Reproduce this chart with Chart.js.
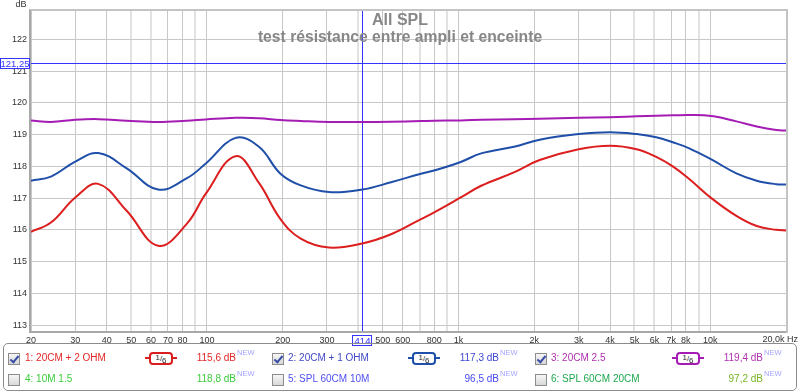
<!DOCTYPE html>
<html lang="fr">
<head>
<meta charset="UTF-8">
<title>All SPL</title>
<script src="https://cdn.jsdelivr.net/npm/chart.js"></script>
<style>
  html, body { margin: 0; padding: 0; background: #fff; }
  #wrap { position: relative; width: 800px; height: 392px; font-family: "Liberation Sans", Arial, sans-serif; }
  #spl { position: absolute; left: 0; top: 0; }
  .panel { position: absolute; left: 3px; top: 343px; width: 794px; height: 48px; border: 1px solid #8c8c8c; border-radius: 5px; box-sizing: border-box; }
  .it { position: absolute; font-size: 10px; line-height: 12px; white-space: nowrap; }
  .val { text-align: right; }
  .new { position: absolute; font-size: 7.5px; line-height: 8px; color: #a4a4ff; }
  .cb { position: absolute; width: 12px; height: 12px; border: 1px solid #8c8c8c; box-sizing: border-box;
        background: linear-gradient(#f6f6f6, #d8d8d8); }
  .cb.on::after { content: ""; position: absolute; left: 3px; top: 0px; width: 3px; height: 7px;
        border-right: 2px solid #3a4ea8; border-bottom: 2px solid #3a4ea8; transform: rotate(40deg); }
  .ic { position: absolute; width: 32px; height: 13px; }
  .ic .ln { position: absolute; left: 0; top: 5px; width: 32px; height: 2px; }
  .ic .bx { position: absolute; left: 4px; top: 0; width: 24px; height: 13px; border: 2px solid; border-radius: 4px;
        background: #fff; box-sizing: border-box; font-size: 8px; line-height: 9px; color: #222; text-align: center; }
  .ic .bx span { position: relative; }
</style>
</head>
<body>
<div id="wrap">
  <canvas id="spl" width="800" height="392"></canvas>

  <div class="panel"></div>

  <!-- rangée 1 -->
  <div class="cb on" style="left:8px;top:353px"></div>
  <div class="it" style="left:25px;top:352px;color:#e42626">1: 20CM + 2 OHM</div>
  <div class="ic" style="left:145px;top:352px"><div class="ln" style="background:#d81e1e"></div><div class="bx" style="border-color:#d81e1e"><span style="top:-1px">1</span>/<span style="top:2px">6</span></div></div>
  <div class="it val" style="right:564px;top:352px;color:#e42626">115,6 dB</div>
  <div class="new" style="left:237px;top:349px">NEW</div>

  <div class="cb on" style="left:272px;top:353px"></div>
  <div class="it" style="left:288px;top:352px;color:#4048c4">2: 20CM + 1 OHM</div>
  <div class="ic" style="left:408px;top:352px"><div class="ln" style="background:#1f4fa8"></div><div class="bx" style="border-color:#1f4fa8"><span style="top:-1px">1</span>/<span style="top:2px">6</span></div></div>
  <div class="it val" style="right:301px;top:352px;color:#3c48d0">117,3 dB</div>
  <div class="new" style="left:500px;top:349px">NEW</div>

  <div class="cb on" style="left:535px;top:353px"></div>
  <div class="it" style="left:551px;top:352px;color:#b030b0">3: 20CM 2.5</div>
  <div class="ic" style="left:672px;top:352px"><div class="ln" style="background:#a41cb4"></div><div class="bx" style="border-color:#a41cb4"><span style="top:-1px">1</span>/<span style="top:2px">6</span></div></div>
  <div class="it val" style="right:37px;top:352px;color:#b030b0">119,4 dB</div>
  <div class="new" style="left:764px;top:349px">NEW</div>

  <!-- rangée 2 -->
  <div class="cb" style="left:8px;top:374px"></div>
  <div class="it" style="left:25px;top:373px;color:#3ccc3c">4: 10M 1.5</div>
  <div class="it val" style="right:564px;top:373px;color:#3ccc3c">118,8 dB</div>
  <div class="new" style="left:237px;top:370px">NEW</div>

  <div class="cb" style="left:272px;top:374px"></div>
  <div class="it" style="left:288px;top:373px;color:#5050f0">5: SPL 60CM 10M</div>
  <div class="it val" style="right:301px;top:373px;color:#4848f4">96,5 dB</div>
  <div class="new" style="left:500px;top:370px">NEW</div>

  <div class="cb" style="left:535px;top:374px"></div>
  <div class="it" style="left:551px;top:373px;color:#1ea84e">6: SPL 60CM 20CM</div>
  <div class="it val" style="right:37px;top:373px;color:#78b424">97,2 dB</div>
  <div class="new" style="left:764px;top:370px">NEW</div>
</div>

<script>
// fréquences (Hz) des points
const freqs = [20, 24, 30, 37, 48, 64, 83, 99, 130, 161, 196, 236, 305, 414, 539, 709, 800, 1020,
               1230, 1660, 2100, 3000, 4000, 5100, 6100, 7100, 8250, 10100, 12700, 15300, 18300, 20000];

// 1: 20CM + 2 OHM
const spl20cm2ohm = [115.94, 116.23, 117.02, 117.45, 116.6, 115.5, 116.18, 117.14, 118.32, 117.48, 116.34, 115.72,
                     115.44, 115.57, 115.86, 116.34, 116.55, 117.02, 117.39, 117.81, 118.2, 118.54, 118.65, 118.54,
                     118.3, 118.0, 117.6, 117.0, 116.44, 116.12, 116.0, 115.98];
// 2: 20CM + 1 OHM
const spl20cm1ohm = [117.55, 117.68, 118.15, 118.42, 117.94, 117.27, 117.62, 118.09, 118.9, 118.62, 117.77, 117.4,
                     117.19, 117.27, 117.5, 117.77, 117.87, 118.14, 118.41, 118.62, 118.84, 119.02, 119.08, 119.02,
                     118.92, 118.76, 118.57, 118.22, 117.78, 117.55, 117.44, 117.43];
// 3: 20CM 2.5
const spl20cm25 = [119.45, 119.4, 119.47, 119.49, 119.44, 119.4, 119.44, 119.48, 119.53, 119.52, 119.46, 119.43,
                   119.4, 119.4, 119.41, 119.43, 119.44, 119.45, 119.47, 119.49, 119.5, 119.53, 119.55, 119.58,
                   119.6, 119.61, 119.62, 119.59, 119.42, 119.26, 119.15, 119.13];

const xTicks = [20, 30, 40, 50, 60, 70, 80, 90, 100, 200, 300, 400, 500, 600, 700, 800, 900, 1000,
                2000, 3000, 4000, 5000, 6000, 7000, 8000, 9000, 10000, 20000];
const xLabels = {20:'20', 30:'30', 40:'40', 50:'50', 60:'60', 70:'70', 80:'80', 100:'100', 200:'200', 300:'300',
                 500:'500', 600:'600', 800:'800', 1000:'1k', 2000:'2k', 3000:'3k', 4000:'4k', 5000:'5k',
                 6000:'6k', 7000:'7k', 8000:'8k', 10000:'10k'};
const softLines = [50, 60, 90, 400, 700, 900, 5000, 6000, 9000];
const yTicks = [113, 114, 115, 116, 117, 118, 119, 120, 121, 122];

const cursorFreq = 414;
const cursorDb = 121.25;

function pts(vals) {
    return freqs.map((f, i) => ({ x: f, y: vals[i] }));
}

const decor = {
    id: 'decor',
    beforeDatasetsDraw(chart) {
        const { ctx, chartArea: a, scales: { x, y } } = chart;
        const cx = Math.round(x.getPixelForValue(cursorFreq)) + 0.5;
        const cy = Math.round(y.getPixelForValue(cursorDb)) + 0.5;
        ctx.save();
        ctx.strokeStyle = '#3434ff';
        ctx.lineWidth = 1;
        ctx.beginPath();
        ctx.moveTo(a.left, cy); ctx.lineTo(a.right, cy);
        ctx.moveTo(cx, a.top); ctx.lineTo(cx, a.bottom);
        ctx.stroke();
        ctx.restore();
    },
    afterDraw(chart) {
        const { ctx, chartArea: a, scales: { x, y } } = chart;
        ctx.save();
        // cadre du graphe
        ctx.strokeStyle = '#c4c4c4';
        ctx.lineWidth = 2;
        ctx.strokeRect(a.left - 1, a.top, a.right - a.left + 2, a.bottom - a.top);
        ctx.strokeStyle = '#a8a8a8';
        ctx.beginPath();
        ctx.moveTo(a.left - 1, a.top); ctx.lineTo(a.left - 1, a.bottom);
        ctx.lineTo(a.right, a.bottom);
        ctx.stroke();

        // titres
        ctx.fillStyle = '#878787';
        ctx.textAlign = 'center';
        ctx.textBaseline = 'alphabetic';
        ctx.font = 'bold 16px "Liberation Sans", Arial, sans-serif';
        ctx.fillText('All SPL', 400, 25);
        ctx.font = 'bold 15.7px "Liberation Sans", Arial, sans-serif';
        ctx.fillText('test résistance entre ampli et enceinte', 400, 42);

        // unités
        ctx.fillStyle = '#333';
        ctx.font = '9px "Liberation Sans", Arial, sans-serif';
        ctx.textBaseline = 'middle';
        ctx.fillText('dB', 21, 5);
        ctx.textAlign = 'right';
        ctx.fillText('20,0k Hz', 798, 340);

        // étiquettes des curseurs
        const cx = Math.round(x.getPixelForValue(cursorFreq));
        const cy = Math.round(y.getPixelForValue(cursorDb));
        ctx.fillStyle = '#fff';
        ctx.strokeStyle = '#3434ff';
        ctx.lineWidth = 1;
        ctx.fillRect(0.5, cy - 4.5, 29, 10);
        ctx.strokeRect(0.5, cy - 4.5, 29, 10);
        ctx.fillRect(cx - 9.5, 335.5, 19, 10);
        ctx.strokeRect(cx - 9.5, 335.5, 19, 10);
        ctx.fillStyle = '#3434ff';
        ctx.textAlign = 'center';
        ctx.font = '9.5px "Liberation Sans", Arial, sans-serif';
        ctx.fillText('121,25', 15, cy + 1);
        ctx.fillText('414', cx + 0.5, 341);
        ctx.restore();
    }
};

const data = {
    datasets: [
        { label: '1: 20CM + 2 OHM', data: pts(spl20cm2ohm), borderColor: '#dc1e1e' },
        { label: '2: 20CM + 1 OHM', data: pts(spl20cm1ohm), borderColor: '#1f4fa8' },
        { label: '3: 20CM 2.5', data: pts(spl20cm25), borderColor: '#a41cb4' }
    ]
};

const config = {
    type: 'line',
    data: data,
    options: {
        responsive: false,
        animation: false,
        devicePixelRatio: 1,
        layout: { padding: { left: 0, top: 10, right: 14, bottom: 0 } },
        elements: {
            point: { radius: 0 },
            line: { borderWidth: 2, tension: 0.4, fill: false }
        },
        plugins: {
            legend: { display: false },
            tooltip: { enabled: false }
        },
        scales: {
            x: {
                type: 'logarithmic',
                min: 20,
                max: 20000,
                afterBuildTicks: s => { s.ticks = xTicks.map(v => ({ value: v })); },
                afterFit: s => { s.height = 60; },
                border: { display: false },
                grid: {
                    drawTicks: false,
                    color: c => softLines.includes(c.tick && c.tick.value) ? '#e2e2e2' : '#c8c8c8',
                    lineWidth: c => softLines.includes(c.tick && c.tick.value) ? 2 : 1
                },
                ticks: {
                    autoSkip: false,
                    maxRotation: 0,
                    padding: 3,
                    color: '#333',
                    font: { size: 9, family: '"Liberation Sans", Arial, sans-serif' },
                    callback: v => xLabels[v] || ''
                }
            },
            y: {
                min: 112.78,
                max: 122.93,
                afterBuildTicks: s => { s.ticks = yTicks.map(v => ({ value: v })); },
                afterFit: s => { s.width = 31; },
                border: { display: false },
                grid: { drawTicks: false, color: '#c8c8c8' },
                ticks: {
                    padding: 4,
                    color: '#333',
                    font: { size: 9, family: '"Liberation Sans", Arial, sans-serif' },
                    callback: v => String(v)
                }
            }
        }
    },
    plugins: [decor]
};

const splChart = new Chart(document.getElementById('spl'), config);
</script>
</body>
</html>
